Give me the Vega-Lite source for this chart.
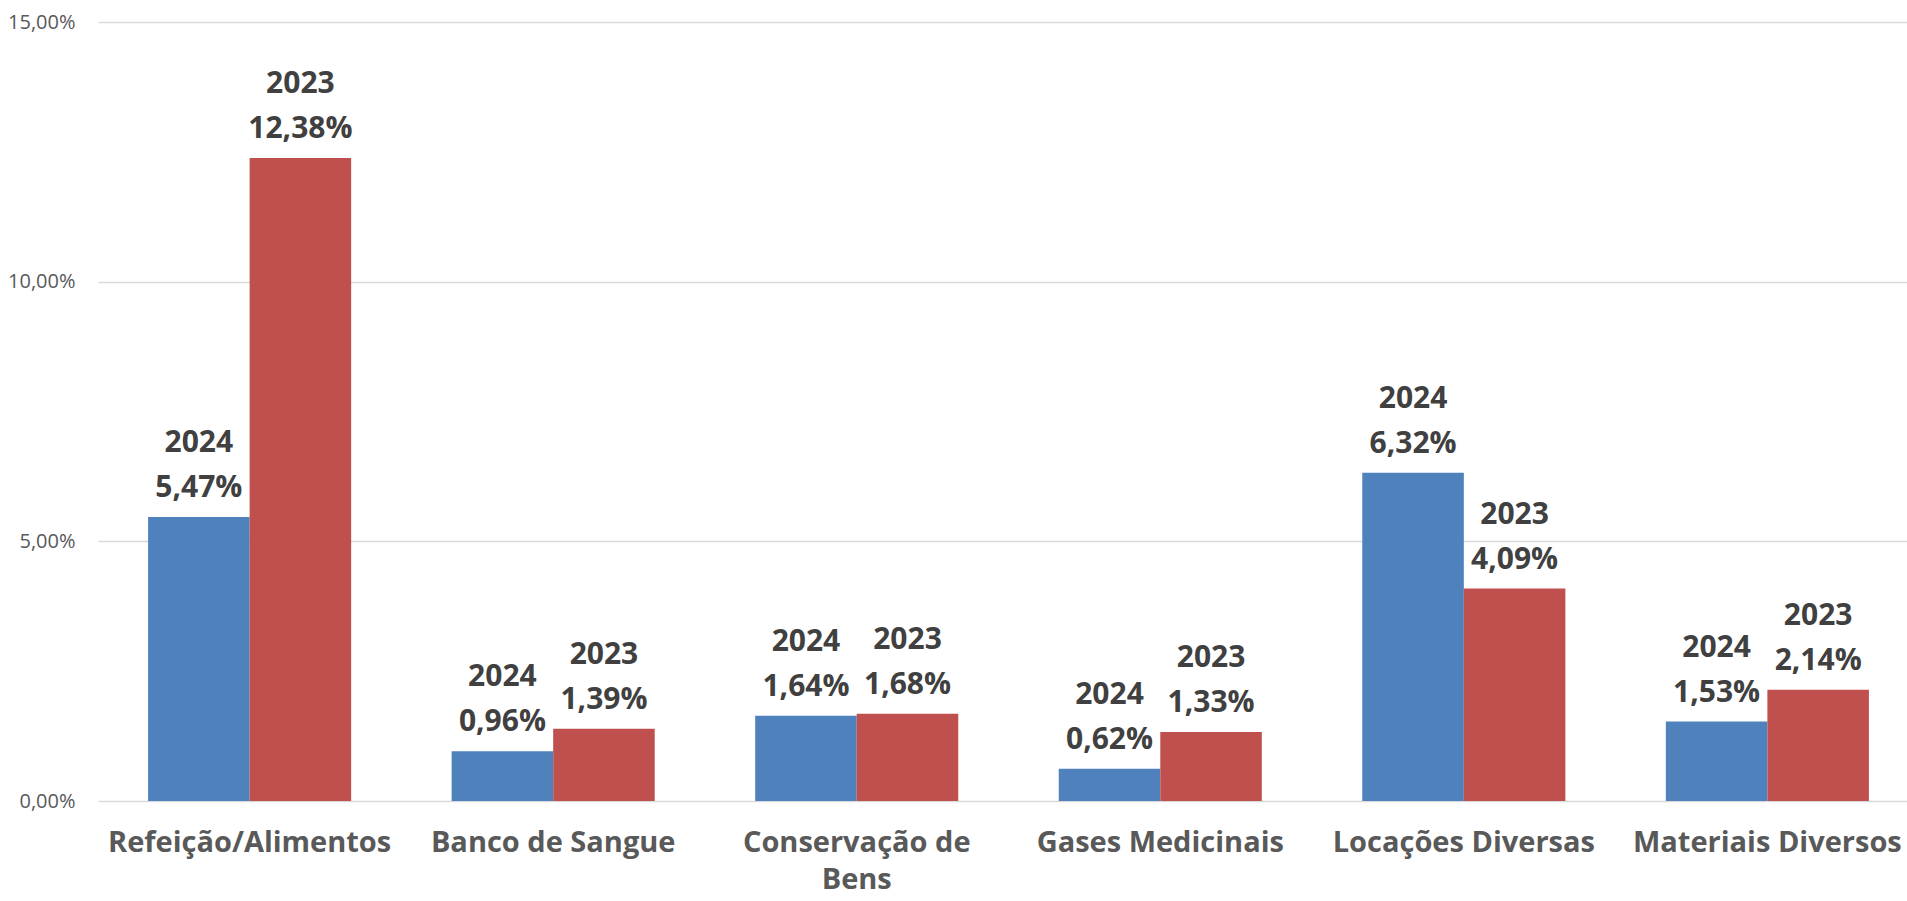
{
  "$schema": "https://vega.github.io/schema/vega-lite/v6.json",
  "width": 1809,
  "height": 779,
  "autosize": {"type": "none"},
  "padding": {"left": 98, "top": 22, "right": 0, "bottom": 100},
  "background": "white",
  "data": {
    "values": [
      {"categoria": "Refeição/Alimentos", "ano": "2024", "valor": 0.0547},
      {"categoria": "Refeição/Alimentos", "ano": "2023", "valor": 0.1238},
      {"categoria": "Banco de Sangue", "ano": "2024", "valor": 0.0096},
      {"categoria": "Banco de Sangue", "ano": "2023", "valor": 0.0139},
      {"categoria": "Conservação de Bens", "ano": "2024", "valor": 0.0164},
      {"categoria": "Conservação de Bens", "ano": "2023", "valor": 0.0168},
      {"categoria": "Gases Medicinais", "ano": "2024", "valor": 0.0062},
      {"categoria": "Gases Medicinais", "ano": "2023", "valor": 0.0133},
      {"categoria": "Locações Diversas", "ano": "2024", "valor": 0.0632},
      {"categoria": "Locações Diversas", "ano": "2023", "valor": 0.0409},
      {"categoria": "Materiais Diversos", "ano": "2024", "valor": 0.0153},
      {"categoria": "Materiais Diversos", "ano": "2023", "valor": 0.0214}
    ]
  },
  "encoding": {
    "x": {
      "field": "categoria",
      "type": "nominal",
      "sort": null,
      "scale": {"paddingInner": 0.331, "paddingOuter": 0.165, "range": [0, 1821]},
      "axis": {
        "title": null,
        "labelAngle": 0,
        "domain": false,
        "ticks": false,
        "labelFont": "Open Sans",
        "labelFontWeight": "bold",
        "labelFontSize": 29,
        "labelColor": "#595959",
        "labelPadding": 27,
        "labelLineHeight": 37,
        "labelLimit": 400,
        "labelExpr": "datum.label == 'Conservação de Bens' ? ['Conservação de', 'Bens'] : datum.label"
      }
    },
    "xOffset": {
      "field": "ano",
      "type": "nominal",
      "sort": ["2024", "2023"],
      "scale": {"paddingInner": 0, "paddingOuter": 0}
    },
    "y": {
      "field": "valor",
      "type": "quantitative",
      "scale": {"domain": [0, 0.15], "nice": false},
      "axis": {
        "title": null,
        "format": ".2%",
        "values": [0, 0.05, 0.1, 0.15],
        "domain": false,
        "ticks": false,
        "labelFont": "Open Sans",
        "labelFontSize": 20,
        "labelColor": "#595959",
        "labelPadding": 23,
        "gridColor": "#d9d9d9",
        "gridWidth": 1.5
      }
    }
  },
  "layer": [
    {
      "mark": {"type": "bar"},
      "encoding": {
        "color": {
          "field": "ano",
          "type": "nominal",
          "scale": {"domain": ["2024", "2023"], "range": ["#4f81bd", "#c0504d"]},
          "legend": null
        }
      }
    },
    {
      "mark": {
        "type": "text",
        "baseline": "alphabetic",
        "dy": -20,
        "font": "Open Sans",
        "fontWeight": "bold",
        "fontSize": 30,
        "color": "#404040"
      },
      "encoding": {
        "text": {"field": "valor", "type": "quantitative", "format": ".2%"}
      }
    },
    {
      "mark": {
        "type": "text",
        "baseline": "alphabetic",
        "dy": -65,
        "font": "Open Sans",
        "fontWeight": "bold",
        "fontSize": 30,
        "color": "#404040"
      },
      "encoding": {
        "text": {"field": "ano", "type": "nominal"}
      }
    }
  ],
  "config": {
    "view": {"stroke": null},
    "locale": {
      "number": {"decimal": ",", "thousands": ".", "grouping": [3], "currency": ["R$", ""]}
    }
  }
}
